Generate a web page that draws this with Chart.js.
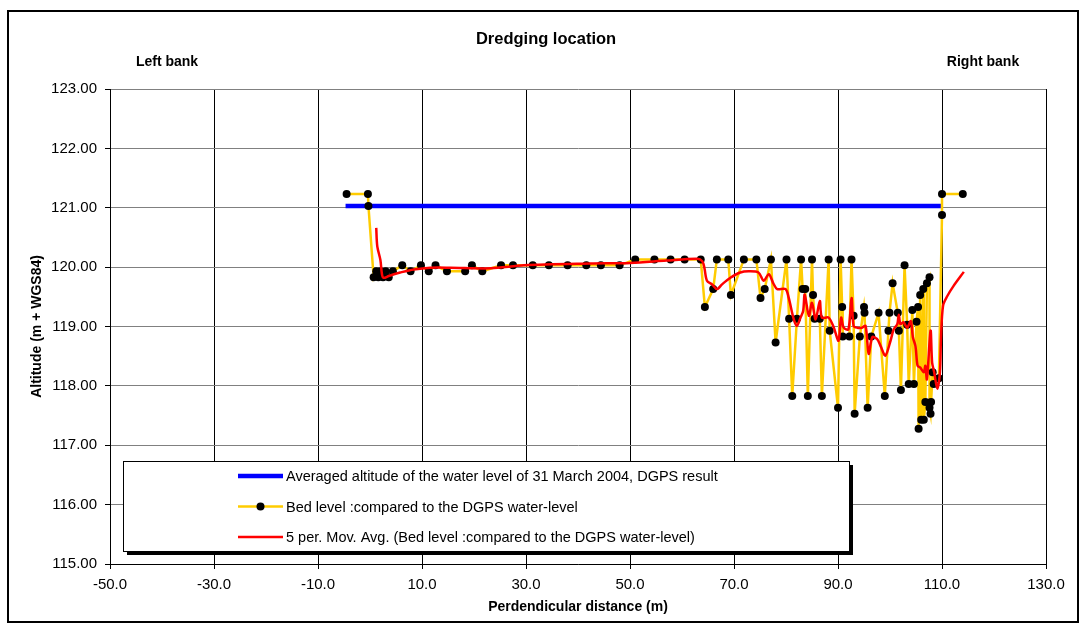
<!DOCTYPE html>
<html>
<head>
<meta charset="utf-8">
<script src="https://cdn.jsdelivr.net/npm/chart.js@4"></script>
<style>
html,body{margin:0;padding:0;background:#fff;}
#wrap{position:relative;width:1085px;height:632px;}
</style>
</head>
<body>
<div id="wrap"><canvas id="chart" width="1085" height="632"></canvas></div>
<script>
const FONT = '"Liberation Sans", Arial, sans-serif';

// averaged water level (DGPS, 31 March 2004)
const waterDist  = [-4.7, 110.0];
const waterLevel = [121.03, 121.03];

// bed level survey points across the section
const bedDist = [-4.5, -0.4, -0.3, 0.7, 1.2, 1.6, 2.0, 2.5, 3.0, 3.6, 4.4, 6.2, 7.8, 9.8, 11.3, 12.6, 14.8, 18.3, 19.6, 21.6,
  25.2, 27.5, 31.3, 34.4, 38.0, 41.6, 44.4, 48.0, 51.0, 54.7, 57.8, 60.5, 63.6, 64.4, 66.0, 66.7, 68.9, 69.4, 71.9, 74.3,
  75.1, 75.9, 77.1, 78.0, 80.1, 80.6, 81.2, 82.1, 82.9, 83.2, 83.7, 84.2, 85.0, 85.2, 85.5, 86.5, 86.9, 88.2, 88.4, 90.0,
  90.5, 90.8, 90.9, 92.2, 92.6, 93.0, 93.2, 94.2, 95.0, 95.1, 95.7, 96.4, 97.8, 99.0, 99.7, 99.9, 100.5, 101.5, 101.7, 102.1,
  102.8, 103.3, 103.6, 104.3, 104.6, 105.1, 105.4, 105.5, 105.8, 106.0, 106.4, 106.5, 106.8, 107.1, 107.6, 107.6, 107.8, 107.9, 108.2, 108.4,
  109.4, 110.0, 110.0, 114.0];
const bedLevel = [121.23, 121.23, 121.03, 119.83, 119.93, 119.83, 119.93, 119.83, 119.93, 119.83, 119.93, 120.03, 119.93, 120.03, 119.93, 120.03, 119.93, 119.93, 120.03, 119.93,
  120.03, 120.03, 120.03, 120.03, 120.03, 120.03, 120.03, 120.03, 120.13, 120.13, 120.13, 120.13, 120.13, 119.33, 119.63, 120.13, 120.13, 119.53, 120.13, 120.13,
  119.48, 119.63, 120.13, 118.73, 120.13, 119.13, 117.83, 119.13, 120.13, 119.63, 119.63, 117.83, 120.13, 119.53, 119.13, 119.13, 117.83, 120.13, 118.93, 117.63,
  120.13, 119.33, 118.83, 118.83, 120.13, 119.18, 117.53, 118.83, 119.33, 119.23, 117.63, 118.83, 119.23, 117.83, 118.93, 119.23, 119.73, 119.23, 118.93, 117.93,
  120.03, 119.03, 118.03, 119.28, 118.03, 119.08, 119.33, 117.28, 119.53, 117.43, 119.63, 117.43, 117.73, 119.73, 119.83, 117.63, 117.53, 117.73, 118.23, 118.03,
  118.13, 120.88, 121.23, 121.23];

// 5 per. moving average trend of the bed level
const movAvgDist = [1.2, 1.4, 2.0, 2.3, 2.6, 3.6, 4.6, 5.8, 8.4, 11.6, 15.5, 23.2, 29.6, 42.4, 50.1, 57.0, 62.9, 63.9, 64.3, 64.8,
  65.8, 66.7, 67.7, 69.3, 71.2, 72.8, 74.7, 75.7, 76.7, 77.6, 78.3, 79.9, 80.5, 81.5, 82.1, 82.8, 83.3, 83.6, 84.4, 85.0,
  85.7, 86.5, 86.9, 88.2, 89.2, 90.1, 90.6, 91.1, 92.0, 92.6, 93.0, 93.7, 94.6, 95.3, 95.9, 96.6, 97.5, 98.2, 99.1, 100.1,
  100.7, 101.4, 101.7, 102.0, 102.6, 103.3, 104.0, 104.4, 104.9, 105.3, 105.8, 106.5, 106.8, 107.1, 107.8, 108.1, 108.5, 109.1, 109.6, 109.8,
  110.2, 111.0, 112.2, 114.2];
const movAvgLevel = [120.66, 120.35, 120.12, 119.88, 119.82, 119.85, 119.88, 119.91, 119.96, 119.99, 119.99, 119.98, 120.03, 120.06, 120.07, 120.11, 120.14, 120.10, 119.99, 119.77,
  119.71, 119.63, 119.71, 119.82, 119.91, 119.93, 119.91, 119.77, 119.88, 119.72, 119.63, 119.63, 119.49, 119.12, 119.01, 119.15, 119.26, 119.54, 119.18, 119.40,
  119.12, 119.43, 119.15, 119.15, 118.98, 118.76, 119.15, 118.98, 118.95, 119.48, 119.01, 118.98, 118.98, 119.01, 118.54, 118.82, 118.79, 118.67, 118.51, 118.76,
  118.95, 119.04, 119.20, 119.04, 119.07, 118.98, 119.09, 118.82, 118.67, 118.34, 118.31, 118.23, 118.34, 118.11, 118.93, 118.39, 118.23, 117.95, 118.23, 118.79,
  119.35, 119.51, 119.68, 119.92];

const xTicks = [-50, -30, -10, 10, 30, 50, 70, 90, 110, 130];
const yTicks = [115, 116, 117, 118, 119, 120, 121, 122, 123];

function pts(xs, ys){ return xs.map((x,i)=>({x:x, y:ys[i]})); }

// frame, headings and the boxed legend inside the plot
const decor = {
  id: 'decor',
  beforeDraw(chart){
    const c = chart.ctx;
    c.save(); c.fillStyle = '#fff'; c.fillRect(0,0,chart.width,chart.height); c.restore();
  },
  afterDraw(chart){
    const c = chart.ctx;
    c.save();
    c.strokeStyle = '#000'; c.lineWidth = 2;
    c.strokeRect(8, 11, 1070, 611);

    c.fillStyle = '#000'; c.textAlign = 'center'; c.textBaseline = 'middle';
    c.font = 'bold 16.5px ' + FONT;
    c.fillText('Dredging location', 546, 39);
    c.font = 'bold 14px ' + FONT;
    c.fillText('Left bank', 167, 62);
    c.fillText('Right bank', 983, 62);

    // legend box with drop shadow
    const bx = 123, by = 461, bw = 726, bh = 90;
    c.fillStyle = '#000'; c.fillRect(bx+4, by+4, bw, bh);
    c.fillStyle = '#fff'; c.fillRect(bx, by, bw, bh);
    c.strokeStyle = '#000'; c.lineWidth = 1; c.strokeRect(bx+0.5, by+0.5, bw, bh);

    c.textAlign = 'left'; c.font = '14.5px ' + FONT;
    chart.data.datasets.forEach((ds, i) => {
      const y = 476 + i*30.5;
      c.strokeStyle = ds.borderColor; c.lineWidth = ds.borderWidth;
      c.beginPath(); c.moveTo(238, y); c.lineTo(283, y); c.stroke();
      if (ds.pointRadius > 0) {
        c.fillStyle = ds.pointBackgroundColor;
        c.beginPath(); c.arc(260.5, y, ds.pointRadius, 0, Math.PI*2); c.fill();
      }
      c.fillStyle = '#000';
      c.fillText(ds.label, 286, y + 1);
    });
    c.restore();
  }
};

new Chart(document.getElementById('chart'), {
  type: 'scatter',
  data: {
    datasets: [
      { label: 'Averaged altitude of the water level of 31 March 2004, DGPS result',
        data: pts(waterDist, waterLevel), showLine: true, borderColor: '#0000FF', borderWidth: 4.5,
        pointRadius: 0, order: 2 },
      { label: 'Bed level :compared to the DGPS water-level',
        data: pts(bedDist, bedLevel), showLine: true, borderColor: '#FFCC00', borderWidth: 2.5,
        pointRadius: 4, pointBackgroundColor: '#000', pointBorderWidth: 0, tension: 0, order: 1 },
      { label: '5 per. Mov. Avg. (Bed level :compared to the DGPS water-level)',
        data: pts(movAvgDist, movAvgLevel), showLine: true, borderColor: '#FF0000', borderWidth: 2.5,
        pointRadius: 0, tension: 0.3, order: 0 }
    ]
  },
  options: {
    responsive: false, animation: false, devicePixelRatio: 1,
    layout: { padding: { top: 89, right: 39, left: 0, bottom: 0 } },
    plugins: { legend: { display: false }, tooltip: { enabled: false }, title: { display: false } },
    scales: {
      x: {
        type: 'linear', min: xTicks[0], max: xTicks[xTicks.length-1],
        afterBuildTicks: s => { s.ticks = xTicks.map(v => ({value: v})); },
        afterFit: s => { s.height = 68; },
        ticks: { callback: v => Number(v).toFixed(1), color: '#000', font: { family: FONT, size: 15 }, padding: 7, maxRotation: 0, autoSkip: false },
        grid: { color: '#000', lineWidth: 1, tickLength: 5, tickColor: '#000' },
        border: { color: '#000', width: 1 },
        title: { display: true, text: 'Perdendicular distance (m)', color: '#000', font: { family: FONT, size: 14, weight: 'bold' }, padding: { top: 0, bottom: 16 } }
      },
      y: {
        type: 'linear', min: yTicks[0], max: yTicks[yTicks.length-1],
        afterBuildTicks: s => { s.ticks = yTicks.map(v => ({value: v})); },
        afterFit: s => { s.width = 110; },
        ticks: { callback: v => Number(v).toFixed(2), color: '#000', font: { family: FONT, size: 15 }, padding: 8 },
        grid: { color: '#808080', lineWidth: 1, tickLength: 5, tickColor: '#000' },
        border: { color: '#000', width: 1 },
        title: { display: true, text: 'Altitude (m + WGS84)', color: '#000', font: { family: FONT, size: 14, weight: 'bold' }, padding: { top: 29, bottom: 0 } }
      }
    }
  },
  plugins: [decor]
});
</script>
</body>
</html>
